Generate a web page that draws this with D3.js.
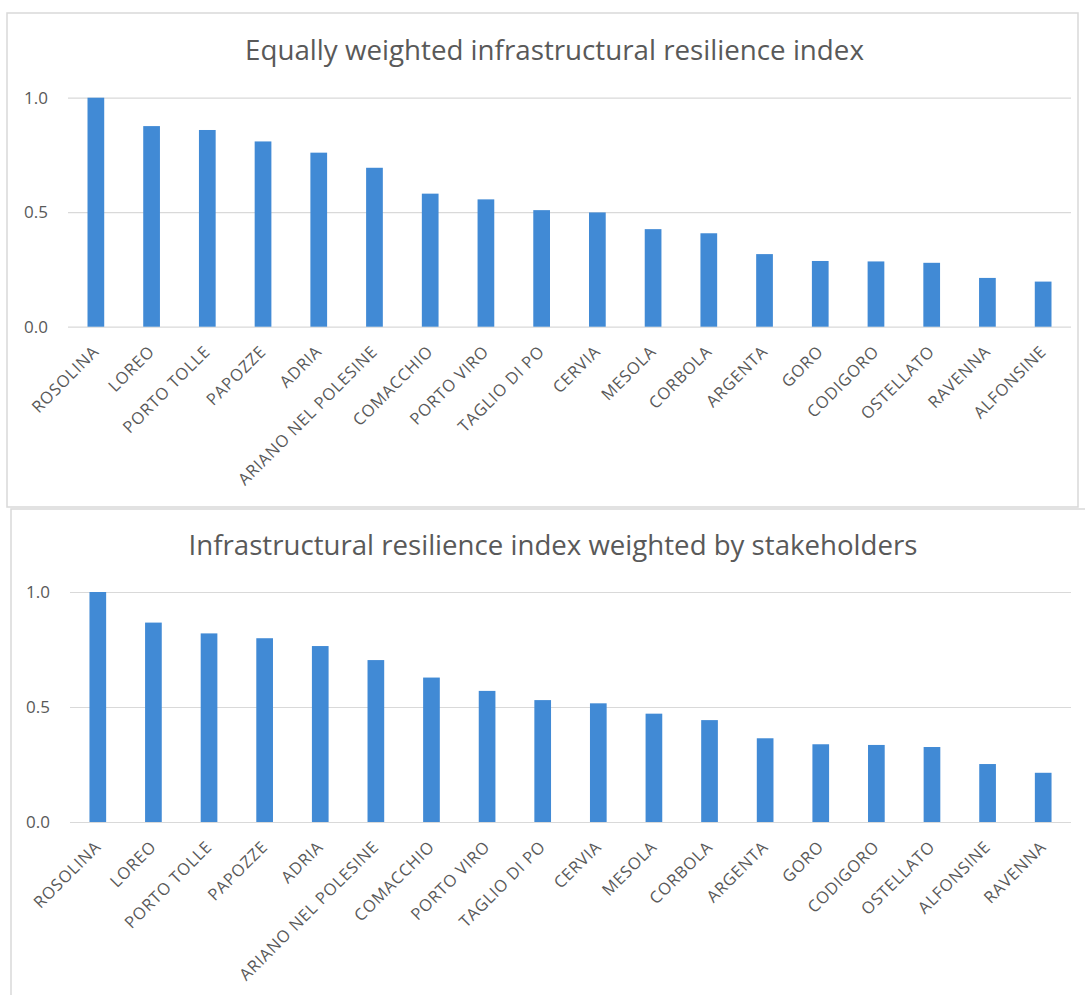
<!DOCTYPE html>
<html><head><meta charset="utf-8">
<script src="https://cdn.jsdelivr.net/npm/d3@7/dist/d3.min.js"></script>
<style>
html,body{margin:0;padding:0;background:#fff;}
svg{display:block;}
text{font-family:"Open Sans", Lato, sans-serif;}
</style></head>
<body>
<svg id="c" width="1085" height="995"></svg>
<script>
// ---- data ----
const titleTop = "Equally weighted infrastructural resilience index";
const titleBottom = "Infrastructural resilience index weighted by stakeholders";

const categoriesTop = ["ROSOLINA","LOREO","PORTO TOLLE","PAPOZZE","ADRIA","ARIANO NEL POLESINE","COMACCHIO","PORTO VIRO","TAGLIO DI PO","CERVIA","MESOLA","CORBOLA","ARGENTA","GORO","CODIGORO","OSTELLATO","RAVENNA","ALFONSINE"];
const valuesTop = [1.0,0.876,0.859,0.809,0.760,0.694,0.581,0.556,0.509,0.499,0.426,0.408,0.317,0.287,0.285,0.279,0.213,0.197];

const categoriesBottom = ["ROSOLINA","LOREO","PORTO TOLLE","PAPOZZE","ADRIA","ARIANO NEL POLESINE","COMACCHIO","PORTO VIRO","TAGLIO DI PO","CERVIA","MESOLA","CORBOLA","ARGENTA","GORO","CODIGORO","OSTELLATO","ALFONSINE","RAVENNA"];
const valuesBottom = [1.0,0.867,0.820,0.799,0.765,0.704,0.628,0.570,0.530,0.516,0.471,0.443,0.364,0.338,0.335,0.326,0.252,0.214];

const yTicks = [0, 0.5, 1.0];

// ---- drawing ----
const svg = d3.select("#c");
svg.append("rect").attr("width",1085).attr("height",995).attr("fill","#fff");

const BAR = "#418ad5", GRID = "#d9d9d9", TXT = "#595959";

function panel(opts){
  const {cats, vals, title, box, plot, titleY, titleX, titleW} = opts;
  svg.append("rect").attr("x",box[0]).attr("y",box[1]).attr("width",box[2]).attr("height",box[3])
     .attr("fill","none").attr("stroke","#d9d9d9").attr("stroke-width",1.5);
  const x = d3.scaleBand().domain(cats).range([plot.x0, plot.x1]).paddingInner(0.70).paddingOuter(0.35);
  const y = d3.scaleLinear().domain([0,1]).range([plot.y0, plot.y1]);
  const g = svg.append("g");
  // gridlines + y labels
  const ya = d3.axisLeft(y).tickValues(yTicks).tickFormat(d3.format(".1f")).tickSize(-(plot.x1-plot.x0)).tickPadding(20);
  const yg = g.append("g").attr("transform",`translate(${plot.x0},0)`).call(ya);
  yg.select(".domain").remove();
  yg.selectAll(".tick line").attr("stroke",GRID).attr("stroke-width",1.2);
  yg.selectAll(".tick text").attr("fill",TXT).style("font-size","17px").style("font-family","'Open Sans', sans-serif");
  // bars
  g.append("g").selectAll("rect").data(vals).join("rect")
    .attr("x",(d,i)=>x(cats[i])).attr("width",x.bandwidth())
    .attr("y",d=>y(d)).attr("height",d=>y(0)-y(d)).attr("fill",BAR);
  // x axis labels
  const xa = d3.axisBottom(x).tickSize(0).tickPadding(0);
  const xg = g.append("g").attr("transform",`translate(0,${plot.y0})`).call(xa);
  xg.select(".domain").remove();
  xg.selectAll(".tick text").attr("fill",TXT).style("font-size","16.5px").style("letter-spacing","0.7px")
    .style("font-family","'Open Sans', sans-serif")
    .attr("text-anchor","end").attr("dy",null).attr("y",0)
    .attr("transform","translate(4,26) rotate(-45)");
  // title, fitted to the measured width
  const t = svg.append("text").attr("x",titleX).attr("y",titleY).attr("text-anchor","middle")
    .attr("fill",TXT).style("font-size","24px").style("font-family","'Open Sans', sans-serif").text(title);
  const len = t.node().getComputedTextLength();
  t.style("font-size",(24*titleW/len).toFixed(2)+"px");
}

panel({cats:categoriesTop, vals:valuesTop, title:titleTop,
  box:[7,13,1071,494], plot:{x0:68,x1:1071,y0:326.7,y1:97.7}, titleY:59.5, titleX:554.5, titleW:619});
panel({cats:categoriesBottom, vals:valuesBottom, title:titleBottom,
  box:[11,509,1090,500], plot:{x0:70,x1:1071,y0:822,y1:592}, titleY:555, titleX:553, titleW:729});
</script>
</body></html>
